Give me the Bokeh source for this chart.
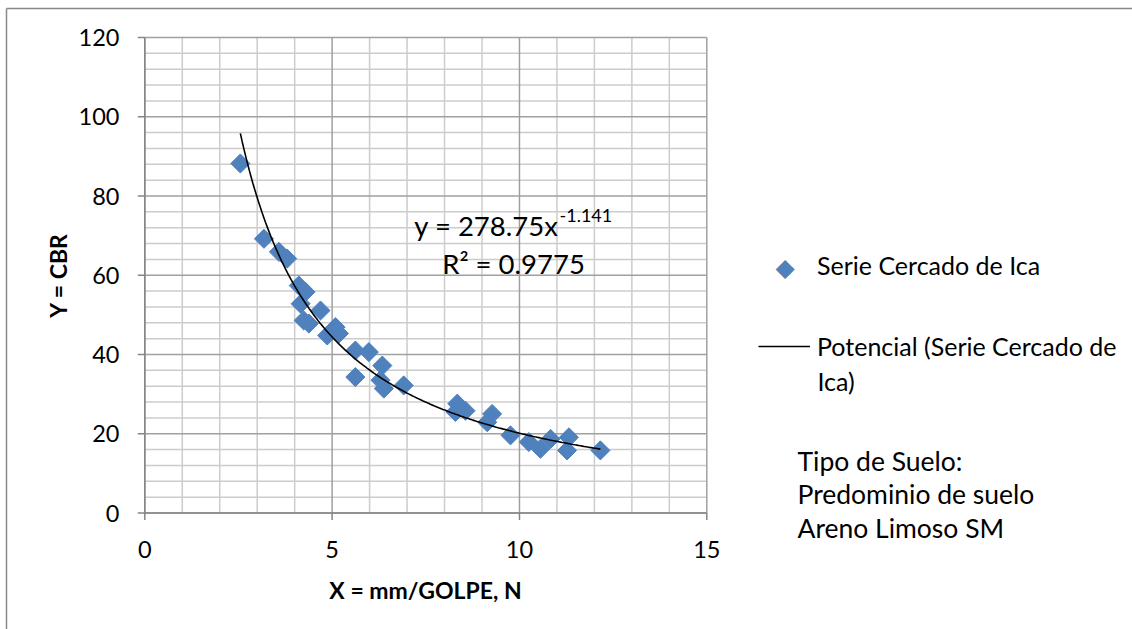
import numpy as np
from bokeh.plotting import figure
from bokeh.models import Range1d, Label, Legend, LegendItem
from bokeh.core.properties import value
from bokeh.embed import file_html
from bokeh.resources import INLINE

# ---------------- data ----------------
x_mm_golpe = [2.55, 3.18, 3.58, 3.80, 4.11, 4.29, 4.16, 4.69, 4.24, 4.38,
              5.09, 4.87, 5.18, 5.62, 5.98, 6.34, 5.62, 6.29, 6.38, 6.91,
              8.34, 8.29, 8.56, 9.27, 9.14, 9.76, 10.25, 10.56, 10.83, 11.32,
              11.27, 12.16]
y_cbr = [88.2, 69.2, 65.9, 64.2, 57.4, 55.8, 52.8, 51.1, 48.6, 47.8,
         46.9, 44.8, 45.3, 41.0, 40.6, 37.2, 34.3, 33.5, 31.4, 32.2,
         27.6, 25.5, 25.8, 25.0, 22.9, 19.6, 17.9, 16.2, 18.7, 19.1,
         15.8, 15.8]
trend_a = 278.75
trend_b = -1.141
r_squared = 0.9775
x_ticks = [0, 5, 10, 15]
x_minor = [1, 2, 3, 4, 6, 7, 8, 9, 11, 12, 13, 14]
y_ticks = [0, 20, 40, 60, 80, 100, 120]
y_minor = [v for v in range(0, 121, 4) if v % 20 != 0]
series_name = "Serie Cercado de Ica"
trend_name_1 = "Potencial (Serie Cercado de"
trend_name_2 = "Ica)"
note_lines = ["Tipo de Suelo:", "Predominio de suelo", "Areno Limoso  SM"]
x_title = "X = mm/GOLPE, N"
y_title = "Y = CBR"

# ---------------- layout (pixel geometry of the plot area) ----------------
W, H = 1132, 629
PX_X0, PX_XS = 144.3, 562.0 / 15      # pixel of x=0, pixels per x unit
PX_Y0, PX_YS = 512.5, 475.5 / 120     # pixel of y=0, pixels per y unit
XMIN, XMAX, YMIN, YMAX = 0, 15, 0, 120


def dx(px):
    return (px - PX_X0) / PX_XS


def dy(py):
    return (PX_Y0 - py) / PX_YS


FONT = "Lato"
GRID_MINOR = "#cccccc"
GRID_MAJOR = "#a0a0a0"
AXIS = "#868686"
BLUE = "#4F81BD"

p = figure(width=W, height=H, output_backend="svg", toolbar_location=None,
           x_range=Range1d(dx(0), dx(W)), y_range=Range1d(dy(H), dy(0)),
           x_axis_location=None, y_axis_location=None, min_border=0)
p.outline_line_color = None
p.background_fill_color = "white"
p.border_fill_color = "white"
p.grid.visible = False

# gridlines
p.segment(x0=x_minor, y0=YMIN, x1=x_minor, y1=YMAX, line_color=GRID_MINOR, line_width=1.5)
p.segment(x0=XMIN, y0=y_minor, x1=XMAX, y1=y_minor, line_color=GRID_MINOR, line_width=1.5)
p.segment(x0=x_ticks, y0=YMIN, x1=x_ticks, y1=YMAX, line_color=GRID_MAJOR, line_width=1.5)
p.segment(x0=XMIN, y0=y_ticks, x1=XMAX, y1=y_ticks, line_color=GRID_MAJOR, line_width=1.5)

# axes: lines, tick marks, tick labels
TICK = 7
p.segment(x0=XMIN, y0=YMIN, x1=XMAX, y1=YMIN, line_color=AXIS, line_width=1.5)
p.segment(x0=XMIN, y0=YMIN, x1=XMIN, y1=YMAX, line_color=AXIS, line_width=1.5)
p.segment(x0=x_ticks, y0=YMIN, x1=x_ticks, y1=YMIN - TICK / PX_YS, line_color=AXIS, line_width=1.5)
p.segment(x0=XMIN, y0=y_ticks, x1=XMIN - TICK / PX_XS, y1=y_ticks, line_color=AXIS, line_width=1.5)
p.text(x=x_ticks, y=dy(549), text=[str(t) for t in x_ticks], text_align="center",
       text_baseline="middle", text_font=value(FONT), text_font_size="23.5px",
       text_color="black")
p.text(x=dx(119), y=y_ticks, text=[str(t) for t in y_ticks], text_align="right",
       text_baseline="middle", text_font=value(FONT), text_font_size="23.5px",
       text_color="black")
p.add_layout(Label(x=dx(425), y=dy(589), text=x_title, text_align="center",
                   text_baseline="middle", text_font=FONT, text_font_size="23px",
                   text_font_style="bold", text_color="black"))
p.add_layout(Label(x=dx(57), y=dy(275), text=y_title, text_align="center",
                   text_baseline="middle", text_font=FONT, text_font_size="23px",
                   text_font_style="bold", text_color="black", angle=np.pi / 2))

# scatter (diamonds)
sc = p.scatter(x_mm_golpe, y_cbr, marker="square", angle=np.pi / 4, size=13.5,
               fill_color=BLUE, line_color=BLUE)

# power trendline from the equation shown on the chart
xt = np.linspace(min(x_mm_golpe), max(x_mm_golpe), 200)
yt = trend_a * xt ** trend_b
ln = p.line(xt, yt, line_color="black", line_width=1.6)

# equation labels
p.add_layout(Label(x=dx(558), y=dy(225), text="y = 278.75x", text_align="right",
                   text_baseline="middle", text_font=FONT, text_font_size="27.5px",
                   text_color="black"))
p.add_layout(Label(x=dx(559), y=dy(215), text=f"{trend_b:.3f}", text_align="left",
                   text_baseline="middle", text_font=FONT, text_font_size="18px",
                   text_color="black"))
p.add_layout(Label(x=dx(513), y=dy(263), text=f"R² = {r_squared}", text_align="center",
                   text_baseline="middle", text_font=FONT, text_font_size="27.5px",
                   text_color="black"))

# legend (the diamond key is drawn as a text symbol, since legend markers are not rotated)
sc_key = p.scatter(x=[], y=[], marker="square", size=0, fill_alpha=0, line_alpha=0)
legend = Legend(items=[LegendItem(label=series_name, renderers=[sc_key]),
                       LegendItem(label=trend_name_1, renderers=[ln])],
                location=(758, H - 361),
                padding=0, margin=0, border_line_color=None,
                background_fill_alpha=0, glyph_width=52, glyph_height=30,
                label_height=30, label_standoff=7, spacing=51,
                label_text_font=FONT, label_text_font_size="25px",
                label_text_color="black")
p.add_layout(legend, "center")
p.add_layout(Label(x=dx(784.5), y=dy(267), text="◆", text_align="center",
                   text_baseline="middle", text_font="DejaVu Sans", text_font_size="25px",
                   text_color=BLUE))
p.add_layout(Label(x=dx(817), y=dy(380), text=trend_name_2, text_align="left",
                   text_baseline="middle", text_font=FONT, text_font_size="25px",
                   text_color="black"))

for i, t in enumerate(note_lines):
    p.add_layout(Label(x=dx(797), y=dy(460 + 33.5 * i), text=t, text_align="left",
                       text_baseline="middle", text_font=FONT,
                       text_font_size="26.5px", text_color="black"))

# chart-area border (top and left edges visible)
p.segment(x0=[dx(6), dx(6)], y0=[dy(8), dy(8)], x1=[dx(W), dx(6)], y1=[dy(8), dy(H)],
          line_color="#888888", line_width=1.5)

open("out.html", "w").write(file_html(p, INLINE))
